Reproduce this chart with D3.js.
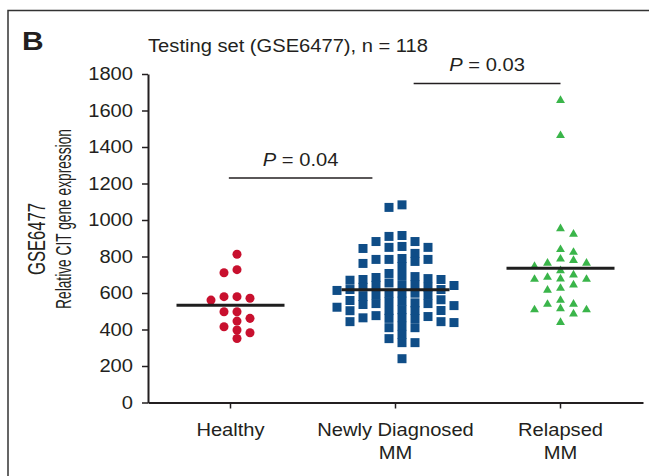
<!DOCTYPE html>
<html>
<head>
<meta charset="utf-8">
<script src="https://cdn.jsdelivr.net/npm/d3@7"></script>
<style>
  body { margin: 0; background: #fff; }
  svg { display: block; font-family: "Liberation Sans", Arial, Helvetica, sans-serif; }
</style>
</head>
<body>
<div id="chart"></div>
<script>
// categories and their axis labels (second line under the first one)
const groups = ['Healthy', 'Newly Diagnosed MM', 'Relapsed MM'];
const groupLabels = [['Healthy'], ['Newly Diagnosed', 'MM'], ['Relapsed', 'MM']];

// CIT expression per sample
const healthy = [812, 728, 711, 580, 580, 571, 561, 497, 497, 461, 446, 415, 397, 382, 351];
const newlyDiagnosed = [
  646, 599, 531, 461,
  784, 707, 670, 632, 553, 522, 465,
  910, 850, 784, 685, 642, 599, 542, 504, 438,
  1083, 915, 850, 762, 619, 563, 504, 443, 410, 328,
  1069, 882, 844, 784, 745, 679, 641, 581, 542, 443, 410, 350, 240,
  882, 817, 773, 690, 645, 600, 555, 509, 464, 419, 373, 328,
  855, 674, 619, 589, 559, 504, 471,
  789, 674, 631, 588, 546, 503, 460,
  696, 655, 614, 537, 476
];
const relapsed = [
  1655, 1463, 953, 922, 838, 823, 786, 779, 764, 764, 746, 722, 675, 675,
  699, 686, 677, 626, 644, 616, 514, 508, 539, 560, 538, 508, 485, 439
];
const series = [healthy, newlyDiagnosed, relapsed];

// y axis ticks
const yTicks = [0, 200, 400, 600, 800, 1000, 1200, 1400, 1600, 1800];

// significance brackets: which pair, at what height, and the P value
const pPairs = [[0, 1], [1, 2]];
const pHeights = [1230, 1748];
const pLabels = ['0.04', '0.03'];

const width = 649, height = 476;
const stretchX = 1.15; // the figure's type is a bit wider than Arial
const fontSize = 17.5;
const colors = ['#c8102e', '#0f4d87', '#3ab54a'];
const symbols = [d3.symbolCircle, d3.symbolSquare, d3.symbolTriangle];
const symbolSizes = [64, 81, 34];
const colStep = 13; // horizontal distance between dot columns
const minGap = 7.5; // closest two dots may sit in one column, px
const ink = '#231f20';

const svg = d3.select('#chart')
  .append('svg')
  .attr('width', width)
  .attr('height', height);

const x = d3.scaleBand().domain(groups).range([148, 643]);
const y = d3.scaleLinear().domain([0, 1800]).range([402.5, 74]);
const cx = g => x(g) + x.bandwidth() / 2;

// widen every glyph of a text selection by stretchX
function stretch(sel) {
  sel.each(function () {
    const w = this.getComputedTextLength();
    d3.select(this).attr('textLength', w * stretchX).attr('lengthAdjust', 'spacingAndGlyphs');
  });
}

// column beeswarm: each dot goes to the first free column, centre outwards
function swarm(values, half) {
  const placed = [];
  values.slice().sort((a, b) => b - a).forEach(v => {
    for (let k = 0; ; k++) {
      const col = half
        ? (k % 2 === 0 ? 1 : -1) * (Math.floor(k / 2) + 0.5)
        : (k % 2 ? (k + 1) / 2 : -k / 2);
      const clash = placed.some(p => p.col === col && Math.abs(y(p.value) - y(v)) < minGap);
      if (!clash) { placed.push({ value: v, col: col }); break; }
    }
  });
  return placed;
}
// keep whichever grid (whole or half steps) gives the narrower swarm
function columnLayout(values) {
  const a = swarm(values, false), b = swarm(values, true);
  const wa = d3.max(a, d => Math.abs(d.col)), wb = d3.max(b, d => Math.abs(d.col));
  return wb < wa ? b : a;
}

// panel frame (top and left rule)
svg.append('path')
  .attr('d', `M8,${height} V10.5 H${width}`)
  .attr('fill', 'none')
  .attr('stroke', '#333')
  .attr('stroke-width', 1.5);

// panel letter
svg.append('text')
  .attr('x', 22).attr('y', 50)
  .attr('font-size', 26).attr('font-weight', 'bold')
  .attr('fill', ink)
  .text('B')
  .call(stretch);

// title
svg.append('text')
  .attr('x', 288).attr('y', 52)
  .attr('text-anchor', 'middle')
  .attr('font-size', fontSize)
  .attr('fill', ink)
  .text('Testing set (GSE6477), n = 118')
  .call(stretch);

// y axis
const yAxis = svg.append('g')
  .attr('transform', `translate(${x.range()[0]},0)`)
  .call(d3.axisLeft(y).tickValues(yTicks).tickFormat(d3.format('d'))
    .tickSize(6).tickSizeOuter(0).tickPadding(9));
yAxis.select('.domain').attr('stroke', ink).attr('stroke-width', 2);
yAxis.selectAll('.tick line').attr('stroke', ink).attr('stroke-width', 1.5);
yAxis.selectAll('.tick text')
  .attr('font-size', fontSize)
  .attr('font-family', null)
  .attr('fill', ink)
  .call(stretch);

// x axis
const xAxis = svg.append('g')
  .attr('transform', `translate(0,${y(0)})`)
  .call(d3.axisBottom(x).tickSize(6).tickSizeOuter(0).tickFormat(''));
xAxis.select('.domain').attr('stroke', ink).attr('stroke-width', 2);
xAxis.selectAll('.tick line').attr('stroke', ink).attr('stroke-width', 1.5);
xAxis.selectAll('.tick text').remove();
xAxis.selectAll('.tick').each(function (d, i) {
  groupLabels[i].forEach((line, j) => {
    d3.select(this).append('text')
      .attr('y', 33 + j * 23)
      .attr('text-anchor', 'middle')
      .attr('font-size', fontSize)
      .attr('fill', ink)
      .text(line)
      .call(stretch);
  });
});

// y axis title, two lines, squeezed sideways into a condensed look
const yTitle = [
  { text: 'GSE6477', x: 44.5, y: 239, size: 23, len: 72 },
  { text: 'Relative CIT gene expression', x: 70.5, y: 219, size: 22.5, len: 180 }
];
yTitle.forEach(t => {
  const txt = svg.append('text')
    .attr('text-anchor', 'middle')
    .attr('font-size', t.size)
    .attr('fill', ink)
    .text(t.text);
  const k = t.len / txt.node().getComputedTextLength();
  txt.attr('transform', `translate(${t.x},${t.y}) rotate(-90) scale(${k},1)`);
});

// the dots
series.forEach((values, i) => {
  const pts = columnLayout(values);
  svg.append('g')
    .selectAll('path')
    .data(pts)
    .enter()
    .append('path')
    .attr('d', d3.symbol().type(symbols[i]).size(symbolSizes[i]))
    .attr('transform', d => `translate(${cx(groups[i]) + d.col * colStep},${y(d.value)})`)
    .attr('fill', colors[i]);
});

// mean lines drawn over the dots
svg.append('g')
  .selectAll('line')
  .data(series)
  .enter()
  .append('line')
  .attr('x1', (d, i) => cx(groups[i]) - 54)
  .attr('x2', (d, i) => cx(groups[i]) + 54)
  .attr('y1', d => y(d3.mean(d)))
  .attr('y2', d => y(d3.mean(d)))
  .attr('stroke', '#1e1e1e')
  .attr('stroke-width', 3);

// P value brackets: flat bars from one group toward the other
const step = x.step();
const barEnds = [[-0.01, -0.14], [0.11, 0]]; // trim at each end, in group steps
pPairs.forEach((pair, k) => {
  const x1 = cx(groups[pair[0]]) + barEnds[k][0] * step;
  const x2 = cx(groups[pair[1]]) + barEnds[k][1] * step;
  svg.append('line')
    .attr('x1', x1).attr('x2', x2)
    .attr('y1', y(pHeights[k])).attr('y2', y(pHeights[k]))
    .attr('stroke', ink)
    .attr('stroke-width', 1.5);
  const label = svg.append('text')
    .attr('x', (x1 + x2) / 2)
    .attr('y', y(pHeights[k]) - 12.5)
    .attr('text-anchor', 'middle')
    .attr('font-size', fontSize)
    .attr('fill', ink);
  label.append('tspan').attr('font-style', 'italic').text('P');
  label.append('tspan').text(' = ' + pLabels[k]);
  label.call(stretch);
});
</script>
</body>
</html>
